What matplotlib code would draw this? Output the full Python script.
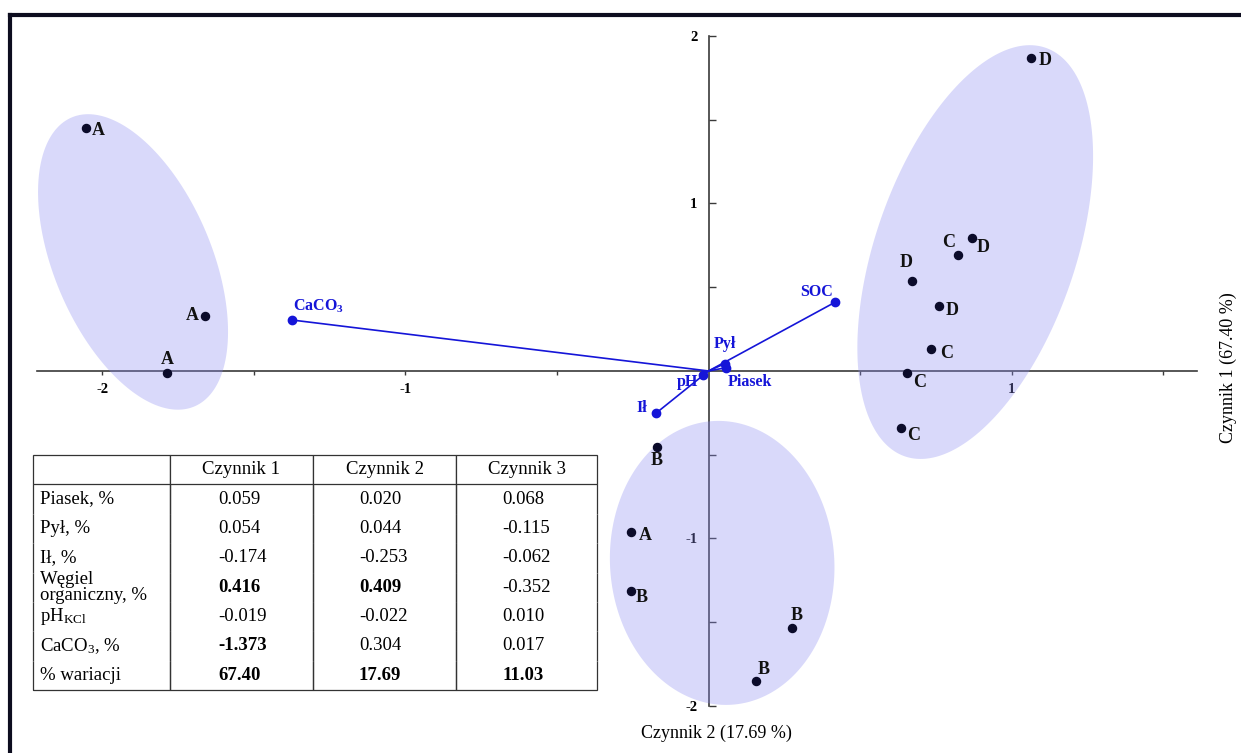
import numpy as np
import matplotlib
matplotlib.use("Agg")
import matplotlib.pyplot as plt
from matplotlib.lines import Line2D

plt.rcParams['font.family'] = ['Liberation Serif', 'DejaVu Serif']
plt.rcParams['mathtext.default'] = 'regular'

# sample scores (Czynnik 1 on x, Czynnik 2 on y)
sample_labels = ['A', 'A', 'A', 'D', 'D', 'C', 'D', 'D', 'C', 'C', 'C', 'B', 'A', 'B', 'B', 'B']
sample_x = [-2.054, -1.662, -1.786, 1.064, 0.869, 0.822, 0.673, 0.760, 0.735, 0.656, 0.635,
            -0.171, -0.256, -0.257, 0.275, 0.156]
sample_y = [1.451, 0.328, -0.012, 1.869, 0.792, 0.693, 0.539, 0.388, 0.131, -0.010, -0.339,
            -0.452, -0.959, -1.313, -1.533, -1.849]

# loadings table
variables = ['Piasek, %', 'Pył, %', 'Ił, %', 'Węgiel\norganiczny, %', 'pH$_{KCl}$', 'CaCO$_3$, %']
vector_names = ['Piasek', 'Pył', 'Ił', 'SOC', 'pH', 'CaCO$_3$']
factor1 = [0.059, 0.054, -0.174, 0.416, -0.019, -1.373]
factor2 = [0.020, 0.044, -0.253, 0.409, -0.022, 0.304]
factor3 = [0.068, -0.115, -0.062, -0.352, 0.010, 0.017]
explained = [67.40, 17.69, 11.03]
factor_names = ['Czynnik 1', 'Czynnik 2', 'Czynnik 3']

# group ellipses: centre, semi-axes (in x units), angle on screen
ell_cx = [-1.899, 0.880, 0.045]
ell_cy = [0.651, 0.710, -1.146]
ell_a = [0.518, 0.713, 0.469]
ell_b = [0.260, 0.330, 0.370]
ell_angle = [113, 71, 94]

# label offsets in pixels
sample_off = [(12, -3), (-13, 1), (0, 13), (14, -3), (11, -9), (-9, 12), (-6, 18), (13, -5),
              (15, -4), (12, -10), (13, -8), (0, -14), (14, -4), (11, -7), (5, 12), (8, 11)]
vector_off = [(23, -14), (0, 20), (-14, 5), (-18, 10), (-15, -7), (26, 14)]

blue = '#1515d8'
dark = '#0b0b2a'

fig = plt.figure(figsize=(12.41, 7.53), dpi=100)
ax = fig.add_axes([0, 0, 1, 1])
ax.set_xlim(-2.338, 1.757)
ax.set_ylim(-2.281, 2.215)
ax.patch.set_visible(False)

# axes through the origin
for s in ['top', 'right']:
    ax.spines[s].set_visible(False)
ax.spines['left'].set_position(('data', 0))
ax.spines['bottom'].set_position(('data', 0))
ax.spines['left'].set_bounds(-2, 2)
ax.spines['bottom'].set_bounds(-2.216, 1.612)
for s in ['left', 'bottom']:
    ax.spines[s].set_color('#3a3a3a')
    ax.spines[s].set_linewidth(1.2)

ax.set_xticks([-2, -1, 1], ['-2', '-1', '1'])
ax.set_xticks([-1.5, -0.5, 0.5, 1.5], minor=True)
ax.set_yticks([-2, -1, 1, 2], ['-2', '-1', '1', '2'])
ax.set_yticks([-1.5, -0.5, 0.5, 1.5], minor=True)
ax.tick_params(axis='x', which='both', direction='out', length=3, width=1, color='#3a3a3a',
               pad=6, labelsize=10.5)
ax.tick_params(axis='y', which='both', direction='in', length=5, width=1, color='#3a3a3a',
               pad=8, labelsize=10.5)
for lab in ax.get_xticklabels() + ax.get_yticklabels():
    lab.set_fontweight('bold')

# ellipses drawn in screen proportions
p0 = ax.transData.transform((0, 0))
p1 = ax.transData.transform((1, 1))
ratio = (p1[0] - p0[0]) / (p1[1] - p0[1])
t = np.linspace(0, 2 * np.pi, 300)
for cx, cy, a, b, ang in zip(ell_cx, ell_cy, ell_a, ell_b, ell_angle):
    th = np.radians(ang)
    ex = a * np.cos(t) * np.cos(th) - b * np.sin(t) * np.sin(th)
    ey = a * np.cos(t) * np.sin(th) + b * np.sin(t) * np.cos(th)
    ax.fill(cx + ex, cy + ey * ratio, color=(0.55, 0.55, 0.95), alpha=0.33, lw=0, zorder=3)

# loading vectors
for name, x, y, off in zip(vector_names, factor1, factor2, vector_off):
    ax.plot([0, x], [0, y], color=blue, lw=1.2, zorder=4)
    ax.plot(x, y, 'o', color=blue, ms=6, zorder=5)
    ax.annotate(name, (x, y), xytext=off, textcoords='offset pixels', ha='center', va='center',
                color=blue, fontsize=11.5, fontweight='bold', zorder=6)

# sample points
ax.plot(sample_x, sample_y, 'o', color=dark, ms=5.8, ls='none', zorder=5)
for lab, x, y, off in zip(sample_labels, sample_x, sample_y, sample_off):
    ax.annotate(lab, (x, y), xytext=off, textcoords='offset pixels', ha='center', va='center',
                color='#111111', fontsize=13, fontweight='bold', zorder=6)

fig.text(716 / 1241, 1 - 733 / 753, 'Czynnik 2 (17.69 %)', ha='center', va='center', fontsize=13)
fig.text(1228 / 1241, 1 - 368 / 753, 'Czynnik 1 (67.40 %)', ha='center', va='center',
         rotation=90, fontsize=13)

# table of loadings
tax = fig.add_axes([33 / 1241, 1 - 690 / 753, 564 / 1241, 235 / 753])
tax.axis('off')
rows = []
for v, a, b, c in zip(variables, factor1, factor2, factor3):
    rows.append([v, f'{a:.3f}', f'{b:.3f}', f'{c:.3f}'])
rows.append(['% wariacji'] + [f'{e:.2f}' for e in explained])
tab = tax.table(cellText=rows, colLabels=[''] + factor_names, cellLoc='left', colLoc='center',
                colWidths=[137, 143, 143, 141], bbox=[0, 0, 1, 1])
tab.auto_set_font_size(False)
tab.set_fontsize(13.5)
nrows = len(rows)
pads = [0.05, 0.34, 0.32, 0.33]
for (r, c), cell in tab.get_celld().items():
    cell.set_linewidth(0.9)
    cell.set_edgecolor('#333333')
    if r == 0:
        cell.visible_edges = 'closed'
        continue
    cell.PAD = pads[c]
    cell.visible_edges = 'LRB' if r == nrows else 'LR'
    txt = cell.get_text()
    if c == 0:
        txt.set_linespacing(0.9)
    else:
        val = abs(float(txt.get_text()))
        if r == nrows or val > 0.4:
            txt.set_fontweight('bold')

# frame edges of the original figure
fig.add_artist(Line2D([10 / 1241, 10 / 1241], [0, 1 - 15 / 753], transform=fig.transFigure,
                      lw=3, color='#0d0d1f', solid_capstyle='projecting'))
fig.add_artist(Line2D([10 / 1241, 1], [1 - 15 / 753, 1 - 15 / 753], transform=fig.transFigure,
                      lw=3, color='#0d0d1f', solid_capstyle='projecting'))

fig.savefig('out.png', dpi=100)
